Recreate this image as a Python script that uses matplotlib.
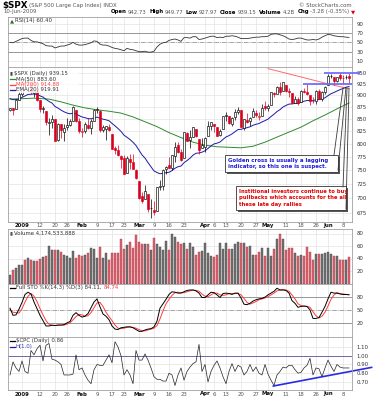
import numpy as np
import pandas as pd
import matplotlib
matplotlib.use("Agg")
import matplotlib.pyplot as plt
import matplotlib.transforms as mtransforms
from matplotlib.lines import Line2D
from matplotlib.patches import Rectangle
from matplotlib.ticker import NullLocator

# trading days shown: 26-Dec-2008 .. 10-Jun-2009
holidays = ["2009-01-01", "2009-01-19", "2009-02-16", "2009-04-10", "2009-05-25"]
dates = pd.bdate_range("2008-12-26", "2009-06-10", freq="C", holidays=holidays)

opens = [869.51, 872.37, 870.58, 890.59,
         902.99, 929.17, 931.17, 927.45, 905.73, 909.91, 890.40, 869.79, 867.28, 841.99,
         844.45, 849.64, 806.77, 839.74, 822.16, 832.50, 837.30, 845.73, 868.89, 845.69,
         823.09, 825.69, 837.77, 831.75, 846.09, 868.24, 866.87, 827.41, 829.91, 833.95,
         818.61, 791.06, 787.91, 775.87, 773.25, 744.69, 770.64, 765.76, 749.93,
         729.57, 704.44, 698.60, 708.27, 684.04, 680.76, 679.28, 719.59, 720.89, 751.97,
         758.84, 753.88, 776.01, 797.92, 784.58, 772.97, 820.60, 806.81, 814.06, 828.68,
         809.07, 790.88,
         793.59, 814.53, 835.13, 839.75, 834.12, 816.76, 829.29, 855.33, 856.88, 839.44,
         854.54, 865.18, 868.27, 831.25, 847.26, 844.62, 853.91, 862.82, 854.48, 856.85, 876.59,
         872.74, 879.21, 906.10, 903.95, 919.58, 909.03, 922.99, 910.52, 905.40, 884.24,
         892.76, 886.07, 909.67, 908.62, 900.42, 888.68, 887.00, 909.95, 892.96, 907.02,
         923.26, 942.87, 942.51, 932.49, 945.67, 938.12, 940.35, 942.73]
highs = [873.74, 873.70, 891.12, 910.32,
         934.73, 936.63, 943.85, 927.45, 910.00, 911.93, 890.40, 877.02, 867.28, 851.59,
         858.13, 849.64, 841.72, 839.74, 838.61, 852.53, 850.45, 877.86, 868.89, 851.66,
         830.78, 842.60, 851.85, 850.55, 870.75, 875.01, 868.05, 838.22, 835.48, 839.43,
         818.61, 796.17, 797.58, 778.69, 777.85, 775.49, 780.12, 779.42, 751.27,
         729.57, 711.67, 724.12, 708.27, 699.09, 695.27, 719.60, 731.92, 752.63, 758.29,
         774.53, 778.12, 803.04, 803.24, 788.91, 823.37, 823.65, 826.78, 832.98, 828.68,
         809.07, 810.48,
         813.62, 845.61, 842.50, 839.75, 834.12, 828.42, 856.91, 864.31, 856.88, 852.93,
         870.35, 875.63, 868.27, 850.09, 861.78, 852.87, 871.80, 868.83, 864.48, 882.06, 888.70,
         880.48, 907.85, 907.70, 920.28, 929.58, 930.17, 922.99, 915.57, 905.40, 898.36,
         896.97, 911.24, 916.39, 924.60, 900.42, 896.65, 911.76, 913.84, 909.45, 920.02,
         947.77, 949.38, 942.51, 942.47, 951.69, 946.33, 946.92, 949.77]
lows = [866.52, 857.07, 870.58, 889.67,
        899.35, 919.53, 927.28, 902.37, 896.81, 888.31, 864.32, 862.02, 836.93, 817.04,
        830.66, 804.47, 804.30, 811.29, 806.07, 827.69, 835.40, 845.73, 844.15, 821.67,
        812.87, 821.98, 829.18, 819.91, 845.42, 861.65, 822.99, 822.30, 808.06, 825.21,
        789.17, 780.43, 777.03, 754.25, 742.37, 744.69, 752.89, 751.75, 734.52,
        699.70, 692.30, 698.60, 677.93, 666.79, 672.88, 679.28, 713.85, 714.76, 742.46,
        753.37, 749.93, 765.64, 781.82, 766.20, 772.97, 805.48, 791.37, 814.06, 813.43,
        779.81, 790.88,
        783.32, 814.53, 826.70, 822.79, 814.53, 814.84, 829.29, 845.35, 840.25, 835.58,
        847.04, 860.87, 832.39, 826.83, 840.57, 835.45, 853.91, 854.65, 847.12, 856.85, 868.51,
        866.10, 879.21, 897.34, 903.95, 901.36, 909.03, 908.68, 896.46, 882.80, 882.52,
        878.94, 886.07, 905.22, 901.37, 879.61, 883.75, 881.46, 891.87, 887.60, 903.56,
        923.26, 938.46, 923.85, 929.32, 934.13, 926.44, 936.15, 927.97]
closes = [872.80, 869.42, 890.64, 903.25,
          931.80, 927.45, 934.70, 906.65, 909.73, 890.35, 870.26, 871.79, 842.62, 843.74,
          850.12, 805.22, 840.24, 827.50, 831.95, 836.57, 845.71, 874.09, 845.14, 825.88,
          825.44, 838.51, 832.23, 845.85, 868.60, 869.89, 827.16, 833.74, 835.19, 826.84,
          789.17, 788.42, 778.94, 770.05, 743.33, 773.14, 764.90, 752.83, 735.09,
          700.82, 696.33, 712.87, 682.55, 683.38, 676.53, 719.60, 721.36, 750.74, 756.55,
          753.89, 778.12, 794.35, 784.04, 768.54, 822.92, 806.12, 813.88, 832.86, 815.94,
          787.53, 797.87,
          811.08, 834.38, 842.50, 835.48, 815.55, 825.16, 856.56, 858.73, 841.50, 852.06,
          865.30, 869.60, 832.39, 850.08, 843.55, 851.92, 866.23, 857.51, 855.16, 873.64, 872.81,
          877.52, 907.24, 903.80, 919.53, 907.39, 929.23, 909.24, 908.35, 883.92, 893.07,
          882.88, 909.71, 908.13, 903.47, 888.33, 887.00, 910.33, 893.06, 906.83, 919.14,
          942.87, 944.74, 931.76, 942.46, 940.09, 939.14, 942.43, 939.15]

# volume in units of 100 million shares
volume = [14, 22, 25, 29, 29, 37, 41, 37, 36, 36,
          39, 42, 44, 60, 53, 53, 53, 51, 46, 44,
          41, 52, 41, 45, 44, 46, 49, 57, 55, 41,
          59, 41, 49, 37, 49, 49, 49, 71, 55, 62,
          67, 57, 78, 66, 64, 64, 64, 53, 73, 63,
          59, 53, 68, 53, 80, 75, 67, 64,
          65, 56, 65, 58, 46, 51, 52, 65, 49, 44,
          43, 46, 65, 56, 65, 55, 56, 64, 67, 65,
          65, 58, 60, 46, 45, 51, 57, 44, 57, 44,
          55, 71, 79, 72, 53, 57, 57, 49, 44, 46,
          44, 58, 51, 37, 48, 48, 48, 49, 51, 48,
          44, 44, 38, 38, 37, 42]

ema20 = [893.0, 890.8, 890.8, 892.0, 895.8, 898.8, 902.2, 902.6, 903.3, 902.1,
         899.1, 896.5, 891.4, 886.9, 883.4, 876.0, 872.6, 868.3, 864.8, 862.1,
         860.5, 861.8, 860.2, 856.9, 853.9, 852.4, 850.5, 850.1, 851.9, 853.6,
         851.1, 849.4, 848.0, 846.0, 840.6, 835.6, 830.2, 824.4, 816.7, 812.6,
         808.1, 802.8, 796.4, 787.3, 778.5, 772.3, 763.8, 756.1, 748.5, 745.7,
         743.4, 744.1, 745.3, 746.1, 749.1, 753.4, 756.3, 757.5, 763.7, 767.7,
         772.1, 777.9, 781.5, 782.1, 783.6, 786.2, 790.8, 795.7, 799.5, 801.0,
         803.3, 808.4, 813.2, 815.9, 819.3, 823.7, 828.1, 828.5, 830.6, 831.8,
         833.7, 836.8, 838.8, 840.4, 843.6, 846.4, 849.4, 854.9, 859.6, 865.3,
         869.3, 875.0, 878.3, 881.2, 881.5, 882.6, 882.6, 885.2, 887.4, 888.9,
         888.8, 888.6, 890.7, 890.9, 892.4, 894.9, 899.5, 903.8, 906.5, 909.9,
         912.8, 915.3, 917.9, 919.91]

# MA(50) and MA(200) at every few sessions
ma50_day = [0, 4, 8, 13, 17, 21, 25, 29, 33, 37, 41, 45, 49, 53, 57, 61, 65, 69, 73,
            77, 81, 85, 89, 93, 97, 101, 105, 109, 113]
ma50 = [892, 893, 894, 892, 886, 879, 873, 869, 866, 862, 854, 844, 834, 822, 812, 803,
        797, 794, 793, 792, 795, 803, 813, 823, 833, 846, 858, 871, 883.60]
ma200_day = [86, 96, 106, 113]
ma200 = [960.8, 943.3, 925.8, 914.88]

rsi = [50, 49, 52, 55, 58, 59, 59, 54, 51, 51,
       49, 47, 43, 42, 42, 38, 40, 42, 42, 44,
       46, 50, 46, 44, 44, 45, 47, 49, 53, 52,
       46, 44, 44, 42, 39, 37, 36, 34, 32, 37,
       35, 34, 32, 30, 30, 31, 29, 29, 31, 40,
       46, 49, 50, 54, 56, 57, 55, 52, 60, 60,
       59, 62, 62, 56, 57, 59, 61, 63, 63, 60,
       61, 60, 63, 63, 64, 63, 61, 58, 58, 58,
       59, 60, 61, 61, 62, 62, 63, 67, 68, 68,
       66, 64, 61, 57, 56, 57, 59, 59, 57, 55,
       55, 56, 55, 57, 61, 64, 67, 66, 64, 63,
       62, 62, 61, 60.40]

sto_k = [54, 38, 39, 52, 67, 85, 90, 86, 68, 53,
         38, 26, 14, 14, 16, 15, 16, 16, 17, 21,
         24, 38, 44, 38, 34, 36, 42, 55, 68, 75,
         57, 41, 36, 28, 14, 7, 6, 10, 11, 12,
         12, 10, 6, 2, 2, 5, 7, 8, 12, 25,
         54, 64, 74, 85, 91, 90, 88, 88, 91, 94,
         95, 95, 93, 88, 78, 78, 84, 90, 89, 84,
         78, 87, 88, 87, 85, 88, 88, 77, 63, 62,
         65, 70, 73, 75, 76, 79, 84, 88, 92, 99,
         95, 95, 94, 88, 71, 65, 56, 58, 59, 58,
         50, 31, 31, 33, 45, 58, 75, 90, 88, 88,
         86, 85, 85, 84.11]
sto_d = [50, 45, 44, 43, 53, 68, 81, 87, 81, 69,
         53, 39, 26, 18, 15, 15, 16, 16, 16, 18,
         21, 28, 35, 40, 39, 36, 37, 44, 55, 66,
         67, 58, 45, 35, 26, 16, 9, 8, 9, 11,
         12, 11, 9, 6, 3, 3, 5, 7, 9, 15,
         30, 48, 64, 74, 83, 89, 90, 89, 89, 91,
         93, 95, 94, 92, 86, 81, 80, 84, 88, 88,
         84, 83, 84, 87, 87, 87, 87, 84, 76, 67,
         63, 66, 69, 73, 75, 77, 80, 84, 88, 93,
         95, 96, 95, 92, 84, 75, 64, 60, 58, 58,
         56, 46, 37, 32, 36, 45, 59, 74, 84, 89,
         87, 86, 85, 84.74]

cpc = [0.78, 0.93, 0.86, 0.82, 0.94, 0.82, 0.80, 1.06, 1.01, 1.08,
       1.12, 0.94, 1.12, 1.14, 0.96, 0.95, 0.93, 0.90, 0.78, 0.78,
       0.78, 0.79, 1.01, 0.84, 0.86, 0.78, 0.72, 0.68, 0.84, 0.90,
       0.89, 0.89, 0.95, 1.01, 0.92, 1.16, 1.10, 1.00, 0.78, 0.84,
       0.78, 0.68, 1.06, 0.95, 0.95, 1.02, 0.95, 0.86, 0.76, 0.73,
       0.73, 0.71, 0.71, 0.80, 0.78, 0.66, 0.78, 0.86, 0.72, 0.82,
       0.87, 0.91, 0.93, 1.13, 0.82, 0.90, 0.70, 0.82, 0.89, 0.94,
       0.86, 0.76, 0.68, 0.82, 0.91, 0.82, 0.89, 0.87, 0.78, 0.82,
       0.90, 0.82, 0.87, 0.80, 0.78, 0.90, 0.79, 0.72, 0.66, 0.78,
       0.82, 0.87, 0.86, 0.89, 0.89, 0.84, 0.80, 0.81, 0.86, 0.89,
       0.97, 0.78, 0.86, 0.85, 0.76, 0.86, 0.95, 0.88, 0.82, 0.90,
       0.87, 0.86, 0.86, 0.86]

# hand-drawn trend line on the put/call ratio (session, value)
cpc_trend_day = [87.7, 120.6]
cpc_trend = [0.653, 0.867]
# hand-drawn levels near the top (session range, price)
level_hi = ([104.7, 116.7], 950)
level_lo = ([97.7, 114.0], 925)

tick_dates = ["2009-01-02", "2009-01-12", "2009-01-20", "2009-01-26", "2009-02-02",
              "2009-02-09", "2009-02-17", "2009-02-23", "2009-03-02", "2009-03-09",
              "2009-03-16", "2009-03-23", "2009-04-01", "2009-04-06", "2009-04-13",
              "2009-04-20", "2009-04-27", "2009-05-01", "2009-05-11", "2009-05-18",
              "2009-05-26", "2009-06-01", "2009-06-08"]
tick_labels = ["2009", "12", "20", "26", "Feb", "9", "17", "23", "Mar", "9", "16", "23",
               "Apr", "6", "13", "20", "27", "May", "11", "18", "26", "Jun", "8"]
price_ticks = [675, 700, 725, 750, 775, 800, 825, 850, 875, 900, 925, 950]

plt.rcParams["font.family"] = ["DejaVu Sans"]

W, H = 374, 400
fig = plt.figure(figsize=(W / 100, H / 100), dpi=100)
x = np.arange(len(dates))
tick_idx = dates.get_indexer(pd.to_datetime(tick_dates))
XL = (-0.67, 114.0)
SMALL = 3.9
GRID = "#e3e3e3"


def panel(top, bottom):
    ax = fig.add_axes([8 / W, 1 - bottom / H, 344 / W, (bottom - top) / H])
    ax.set_xlim(*XL)
    ax.set_xticks(tick_idx)
    ax.yaxis.tick_right()
    ax.tick_params(axis="both", length=0, labelbottom=False, labelsize=SMALL,
                   labelcolor="#333333", pad=3.5)
    ax.grid(True, color=GRID, lw=0.5)
    ax.set_axisbelow(True)
    for s in ax.spines.values():
        s.set_color("#a0a0a0")
        s.set_linewidth(0.6)
    return ax


def ftext(xp, yp, s, **kw):
    kw.setdefault("fontsize", SMALL)
    kw.setdefault("va", "center")
    return fig.text(xp / W, 1 - yp / H, s, **kw)


def frect(x0, y0, x1, y1, **kw):
    fig.add_artist(Rectangle((x0 / W, 1 - y1 / H), (x1 - x0) / W, (y1 - y0) / H,
                             transform=fig.transFigure, **kw))


def fline(xs, ys, **kw):
    fig.add_artist(Line2D([v / W for v in xs], [1 - v / H for v in ys],
                          transform=fig.transFigure, **kw))


def run_text(xp, yp, parts, size=SMALL):
    r = fig.canvas.get_renderer()
    for s, bold, col, gap in parts:
        t = ftext(xp, yp, s, fontsize=size, color=col,
                  fontweight="bold" if bold else "normal")
        xp += t.get_window_extent(r).width + gap
    return xp


def date_labels(ax, ypix):
    tr = mtransforms.blended_transform_factory(ax.transData, fig.transFigure)
    for ti, lab in zip(tick_idx, tick_labels):
        bold = (not lab.isdigit()) or lab == "2009"
        ax.text(ti, 1 - ypix / H, lab, transform=tr, ha="center", va="center",
                fontsize=SMALL, fontweight="bold" if bold else "normal",
                color="#111111" if bold else "#555555")


closes_a = np.array(closes)
opens_a = np.array(opens)
prev = np.r_[opens_a[0], closes_a[:-1]]
down = closes_a < prev
RED = "#d8001e"

# ---- RSI panel
ax_rsi = panel(17, 67)
ax_rsi.set_ylim(-2.8, 104.1)
ax_rsi.set_yticks([10, 30, 50, 70, 90])
for lv in (30, 70):
    ax_rsi.axhline(lv, color="#8a8a8a", lw=0.6)
ax_rsi.axhline(50, color="#8a8a8a", lw=0.5, ls="-.")
ax_rsi.plot(x, rsi, color="#333333", lw=0.6)

# ---- price panel
ax = panel(67, 222)
ax.set_yscale("log")
ax.set_ylim(660.8, 964.7)
ax.yaxis.set_minor_locator(NullLocator())
ax.set_yticks(price_ticks)
ax.set_yticklabels([str(v) for v in price_ticks])
ax.tick_params(axis="y", which="both", length=0)
ax.plot(ma50_day, ma50, color="#2f8a2f", lw=0.7, zorder=2)
ax.plot(ma200_day, ma200, color="#ff6a6a", lw=0.7, zorder=2)
ax.plot(x, ema20, color="#1a1aa8", lw=0.7, zorder=2)
cols = np.where(down, RED, "black")
ax.vlines(x, lows, highs, colors=cols, lw=0.5, zorder=3)
body_lo = np.minimum(opens_a, closes_a)
body_h = np.maximum(np.abs(closes_a - opens_a), 0.4)
faces = np.where(closes_a < opens_a, cols, "white")
ax.bar(x, body_h, bottom=body_lo, width=0.66, color=faces, edgecolor=cols, lw=0.45, zorder=4)
for days, lvl in (level_hi, level_lo):
    ax.plot(days, [lvl, lvl], color="#6f6fff", lw=1.3, zorder=5, clip_on=False,
            solid_capstyle="butt")
date_labels(ax, 226)

# ---- volume panel
ax_v = panel(229, 284)
ax_v.set_ylim(-0.8, 87.2)
ax_v.set_yticks([20, 40, 60, 80])
ax_v.bar(x, volume, width=0.86, color=np.where(down, "#d8636f", "#727272"),
         edgecolor=np.where(down, "#b33a48", "#4a4a4a"), lw=0.3)

# ---- stochastics panel
ax_s = panel(284, 337)
ax_s.set_ylim(-10.8, 108.5)
ax_s.set_yticks([20, 50, 80])
for lv in (20, 80):
    ax_s.axhline(lv, color="#8a8a8a", lw=0.6)
ax_s.axhline(50, color="#8a8a8a", lw=0.5, ls="-.")
ax_s.plot(x, sto_d, color="#ff3b3b", lw=0.7)
ax_s.plot(x, sto_k, color="black", lw=0.7)

# ---- put/call ratio panel
ax_c = panel(337, 390)
ax_c.set_ylim(0.608, 1.214)
ax_c.set_yticks([0.7, 0.8, 0.9, 1.0, 1.1])
ax_c.set_yticklabels(["0.70", "0.80", "0.90", "1.00", "1.10"])
ax_c.axhline(1.0, color="#6a6aa8", lw=0.7)
ax_c.plot(x, cpc, color="#222222", lw=0.5)
ax_c.plot(cpc_trend_day, cpc_trend, color="#2a2ae6", lw=1.2, clip_on=False,
          solid_capstyle="round")
date_labels(ax_c, 394)

# ---- header
run_text(2, 5.5, [("$SPX", True, "black", 2)], size=6.3)
ftext(29, 5.5, "(S&P 500 Large Cap Index) INDX", color="#555555")
ftext(352, 5.5, "\u00a9 StockCharts.com", color="#555555", ha="right")
ftext(3, 12, "10-Jun-2009", color="#555555")
run_text(111, 12, [("Open", True, "black", 1.2), ("942.73", False, "#555555", 2.5),
                   ("High", True, "black", 1.2), ("949.77", False, "#555555", 2.5),
                   ("Low", True, "black", 1.2), ("927.97", False, "#555555", 2.5),
                   ("Close", True, "black", 1.2), ("939.15", False, "#555555", 2.5),
                   ("Volume", True, "black", 1.2), ("4.2B", False, "#555555", 2.5),
                   ("Chg", True, "black", 1.2), ("-3.28 (-0.35%)", False, "#555555", 1.5),
                   ("\u25bc", False, RED, 0)])

# ---- panel legends
run_text(10, 20.5, [("\u25b2", False, "#2e6b2e", 0.8), ("RSI(14) 60.40", False, "#333333", 0)])

frect(9, 69, 79, 93, facecolor="white", edgecolor="none", alpha=0.85)
run_text(10, 73, [("\u25ae", False, "#444444", 1), ("$SPX (Daily) 939.15", False, "#333333", 0)])
for yy, col, txt, tcol in ((79, "#2f8a2f", "MA(50) 883.60", "#333333"),
                           (84.5, "#ff4040", "MA(200) 914.88", "#ff4040"),
                           (90, "#1a1aa8", "EMA(20) 919.91", "#333333")):
    fline([10, 15], [yy, yy], color=col, lw=0.9)
    ftext(16, yy, txt, color=tcol)

run_text(10, 233, [("\u25ae", False, "#555555", 1), ("Volume 4,174,533,888", False, "#333333", 0)])

fline([10, 15], [287.5, 287.5], color="black", lw=0.9)
run_text(16, 287.5, [("Full STO %K(14,3) %D(3) 84.11,", False, "#333333", 1.5),
                     ("84.74", False, "#ff3b3b", 0)])

fline([10, 15], [340.5, 340.5], color="black", lw=0.9)
ftext(16, 340.5, "$CPC (Daily) 0.86", color="#333333")
fline([10, 15], [346.5, 346.5], color="#1a1aa8", lw=0.9)
ftext(16, 346.5, "H(1.0)", color="#3a3ab0")

# ---- callout notes
for xs, ys in (([334, 343], [155, 88]), ([338, 346], [170, 87]),
               ([343, 347], [187, 88]), ([346, 349], [209, 88])):
    fline(xs, ys, color="#3a3a3a", lw=0.6)

frect(226.5, 156.5, 339.5, 173.5, facecolor="#555555", edgecolor="none")
frect(225, 155, 338, 172, facecolor="white", edgecolor="#333333", lw=0.6)
ftext(228.5, 163.3, "Golden cross is usually a lagging\nindicator, so this one is suspect.",
      color="#1c1cd8", fontweight="bold", fontsize=3.85, linespacing=1.3)

frect(237.5, 187.5, 347.5, 211.5, facecolor="#555555", edgecolor="none")
frect(236, 186, 346, 210, facecolor="white", edgecolor="#333333", lw=0.6)
ftext(239, 198, "Institional investors continue to buy\npullbacks which accounts for the all\nthese late day rallies",
      color="#e00000", fontweight="bold", fontsize=3.75, linespacing=1.3)

fig.savefig("out.png", dpi=100)
